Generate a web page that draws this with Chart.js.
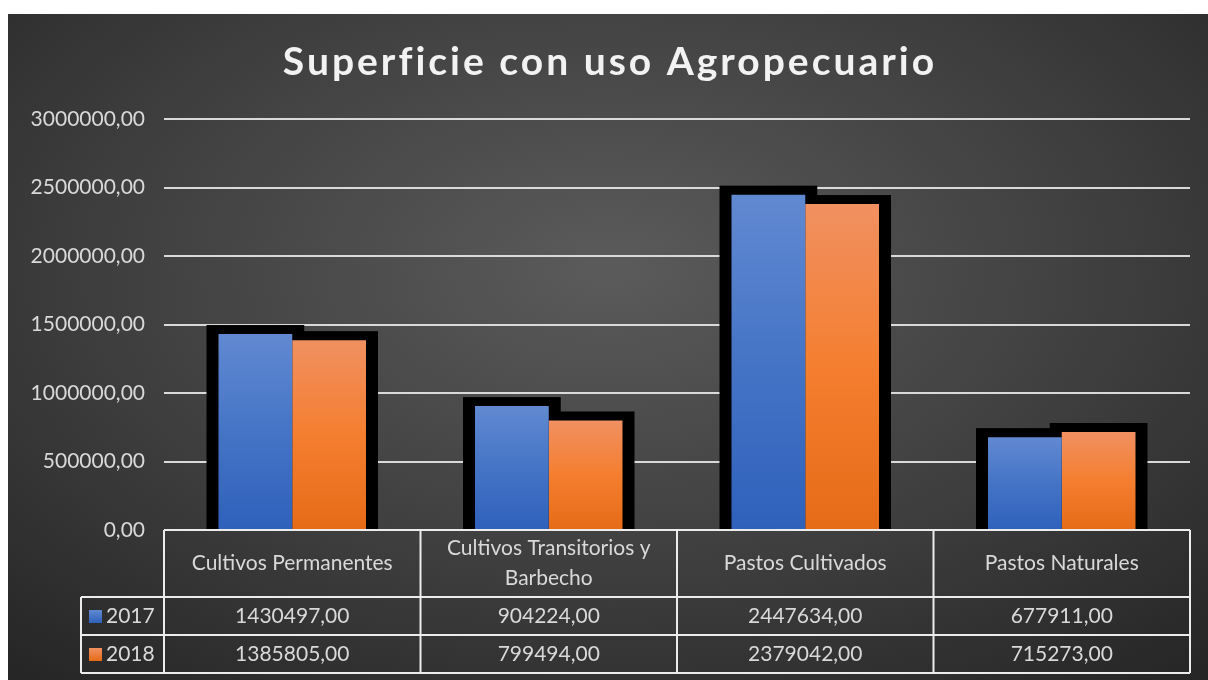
<!DOCTYPE html>
<html>
<head>
<meta charset="utf-8">
<script src="https://cdn.jsdelivr.net/npm/chart.js@4.4.1/dist/chart.umd.min.js"></script>
<style>
  html,body{margin:0;padding:0;background:#ffffff;}
  #wrap{position:absolute;left:8px;top:14px;width:1200px;height:666px;
    background:radial-gradient(ellipse 75% 80% at 50% 38%, #5b5b5b 0%, #3f3f3f 55%, #262626 100%);}
  canvas{display:block;}
</style>
</head>
<body>
<div id="wrap"><canvas id="c" width="1200" height="666"></canvas></div>
<script>
const titleText = "Superficie con uso Agropecuario";
const categories = ["Cultivos Permanentes", "Cultivos Transitorios y Barbecho", "Pastos Cultivados", "Pastos Naturales"];
const seriesNames = ["2017", "2018"];
const values2017 = [1430497, 904224, 2447634, 677911];
const values2018 = [1385805, 799494, 2379042, 715273];
const yMax = 3000000;
const yStep = 500000;

const FONT = "Lato, 'Open Sans', sans-serif";
const TXT = "#d9d9d9";
const fmt = v => Number(v).toFixed(2).replace('.', ',');

function barGradient(stops) {
  return function(ctx) {
    const chart = ctx.chart;
    if (!chart.chartArea || ctx.type !== 'data') return stops[1];
    const y = chart.scales.y;
    const top = y.getPixelForValue(ctx.raw);
    const bot = y.getPixelForValue(0);
    const g = chart.ctx.createLinearGradient(0, top, 0, bot);
    g.addColorStop(0, stops[0]);
    g.addColorStop(0.5, stops[1]);
    g.addColorStop(1, stops[2]);
    return g;
  };
}
const blueStops = ["#6189d1", "#4574c6", "#2f61bb"];
const orangeStops = ["#f19061", "#f47e2f", "#e66b17"];

const shadowPlugin = {
  id: 'barShadow',
  beforeDatasetsDraw(chart) {
    const c = chart.ctx;
    c.save();
    c.fillStyle = "#000000";
    chart.data.datasets.forEach((ds, i) => {
      chart.getDatasetMeta(i).data.forEach(bar => {
        const w = bar.width;
        c.fillRect(bar.x - w / 2 - 12, bar.y - 9, w + 24, bar.base - bar.y + 9);
      });
    });
    c.restore();
  }
};

const titlePlugin = {
  id: 'spacedTitle',
  afterDraw(chart) {
    const c = chart.ctx;
    c.save();
    c.font = "bold 39px " + FONT;
    c.fillStyle = "#f2f2f2";
    c.textAlign = "center";
    c.textBaseline = "middle";
    try { c.letterSpacing = "3px"; } catch (e) {}
    c.fillText(titleText, chart.width / 2 + 2, 48);
    c.restore();
  }
};

function wrapText(c, text, maxW) {
  const words = text.split(' ');
  const lines = [];
  let cur = '';
  words.forEach(w => {
    const t = cur ? cur + ' ' + w : w;
    if (c.measureText(t).width > maxW && cur) { lines.push(cur); cur = w; }
    else cur = t;
  });
  if (cur) lines.push(cur);
  return lines;
}

const tablePlugin = {
  id: 'dataTable',
  afterDatasetsDraw(chart) {
    const c = chart.ctx;
    const xs = chart.scales.x;
    const area = chart.chartArea;
    const n = categories.length;
    const cw = (area.right - area.left) / n;
    const top = area.bottom;
    const hdrB = top + 67;
    const rowH = 38;
    const legL = area.left - 83;
    const bottom = hdrB + rowH * seriesNames.length;
    c.save();
    c.strokeStyle = "#ececec";
    c.lineWidth = 2;
    c.beginPath();
    c.moveTo(area.left, top); c.lineTo(area.right, top);
    c.moveTo(legL, hdrB); c.lineTo(area.right, hdrB);
    for (let r = 1; r <= seriesNames.length; r++) {
      c.moveTo(legL, hdrB + rowH * r); c.lineTo(area.right, hdrB + rowH * r);
    }
    for (let i = 0; i <= n; i++) {
      const x = area.left + cw * i;
      c.moveTo(x, top); c.lineTo(x, bottom);
    }
    c.moveTo(legL, hdrB); c.lineTo(legL, bottom);
    c.stroke();

    c.fillStyle = TXT;
    c.font = "21px " + FONT;
    c.textAlign = "center";
    c.textBaseline = "middle";
    categories.forEach((cat, i) => {
      const cx = xs.getPixelForValue(i);
      const lines = wrapText(c, cat, cw - 24);
      const lh = 30;
      const y0 = (top + hdrB) / 2 - (lines.length - 1) * lh / 2;
      lines.forEach((ln, k) => c.fillText(ln, cx, y0 + k * lh));
    });
    const series = [values2017, values2018];
    const stops = [blueStops, orangeStops];
    series.forEach((vals, r) => {
      const cy = hdrB + rowH * r + rowH / 2;
      vals.forEach((v, i) => {
        c.fillStyle = TXT;
        c.textAlign = "center";
        c.fillText(fmt(v), xs.getPixelForValue(i), cy);
      });
      const g = c.createLinearGradient(0, cy - 6, 0, cy + 7);
      g.addColorStop(0, stops[r][0]); g.addColorStop(1, stops[r][2]);
      c.fillStyle = g;
      c.fillRect(legL + 8, cy - 6, 13, 13);
      c.fillStyle = TXT;
      c.textAlign = "left";
      c.fillText(seriesNames[r], legL + 25, cy);
    });
    c.restore();
  }
};

new Chart(document.getElementById('c'), {
  type: 'bar',
  data: {
    labels: categories,
    datasets: [
      { label: seriesNames[0], data: values2017, backgroundColor: barGradient(blueStops), borderWidth: 0 },
      { label: seriesNames[1], data: values2018, backgroundColor: barGradient(orangeStops), borderWidth: 0 }
    ]
  },
  options: {
    responsive: false,
    animation: false,
    devicePixelRatio: 1,
    layout: { padding: { top: 105, bottom: 150, left: 0, right: 18 } },
    plugins: { legend: { display: false }, title: { display: false }, tooltip: { enabled: false } },
    datasets: { bar: { categoryPercentage: 0.575, barPercentage: 1.0 } },
    scales: {
      x: { display: false },
      y: {
        min: 0, max: yMax,
        afterFit(s) { s.width = 156; },
        border: { display: false },
        grid: { color: "rgba(225,225,225,0.95)", lineWidth: 2, drawTicks: false },
        ticks: { stepSize: yStep, padding: 19, color: TXT, font: { family: FONT, size: 21 }, callback: v => fmt(v) }
      }
    }
  },
  plugins: [shadowPlugin, tablePlugin, titlePlugin]
});
</script>
</body>
</html>
